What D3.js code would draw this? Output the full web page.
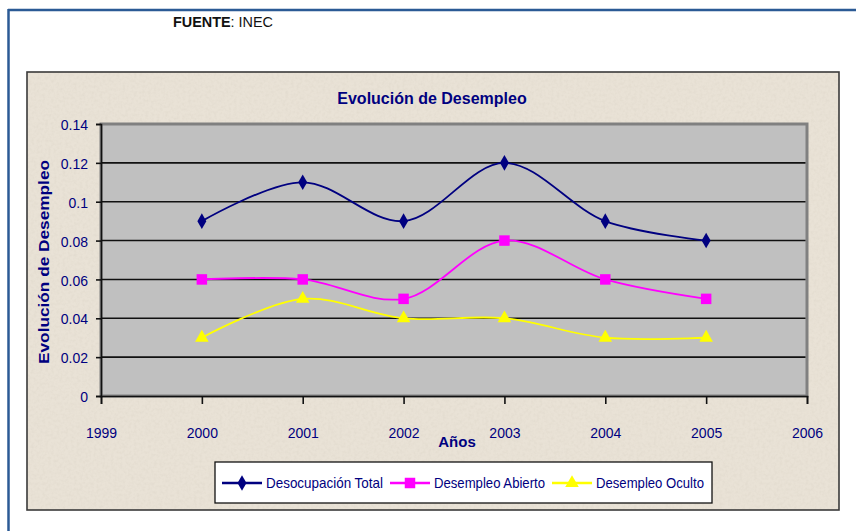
<!DOCTYPE html>
<html>
<head>
<meta charset="utf-8">
<script src="https://cdn.jsdelivr.net/npm/d3@7"></script>
<style>
  body { margin: 0; background: #fff; }
  svg text { font-family: "Liberation Sans Narrow", "Arial Narrow", "Liberation Sans", Arial, sans-serif; }
</style>
</head>
<body>
<svg id="svg-wrapper" width="856" height="531"></svg>
<script>
// data
const years = [2000, 2001, 2002, 2003, 2004, 2005];
const desocupacionTotal = [0.09, 0.11, 0.09, 0.12, 0.09, 0.08];
const desempleoAbierto = [0.06, 0.06, 0.05, 0.08, 0.06, 0.05];
const desempleoOculto = [0.03, 0.05, 0.04, 0.04, 0.03, 0.03];
const seriesNames = ["Desocupación Total", "Desempleo Abierto", "Desempleo Oculto"];
const xTicks = [1999, 2000, 2001, 2002, 2003, 2004, 2005, 2006];
const yTicks = [0, 0.02, 0.04, 0.06, 0.08, 0.1, 0.12, 0.14];

const NAVY = "#000080";
const series = [
    { name: seriesNames[0], values: desocupacionTotal, color: NAVY, symbol: d3.symbolDiamond, size: 70 },
    { name: seriesNames[1], values: desempleoAbierto, color: "#FF00FF", symbol: d3.symbolSquare, size: 110 },
    { name: seriesNames[2], values: desempleoOculto, color: "#FFFF00", symbol: d3.symbolTriangle, size: 80 }
];

const svg = d3.select('#svg-wrapper');

// texture for the beige chart background
const defs = svg.append('defs');
const filter = defs.append('filter').attr('id', 'grain')
    .attr('x', 0).attr('y', 0).attr('width', '100%').attr('height', '100%');
filter.append('feTurbulence')
    .attr('type', 'fractalNoise').attr('baseFrequency', 0.35).attr('numOctaves', 2).attr('seed', 4)
    .attr('result', 'noise');
filter.append('feColorMatrix').attr('in', 'noise').attr('type', 'matrix')
    .attr('values', '0 0 0 0 0.55  0 0 0 0 0.5  0 0 0 0 0.42  0 0 0 0.9 -0.35')
    .attr('result', 'spots');
filter.append('feComposite').attr('in', 'spots').attr('in2', 'SourceGraphic').attr('operator', 'in');

// outer page frame
svg.append('line').attr('x1', 8).attr('x2', 856).attr('y1', 10).attr('y2', 10)
    .attr('stroke', '#2B5A95').attr('stroke-width', 2.5);
svg.append('line').attr('x1', 8.5).attr('x2', 8.5).attr('y1', 9).attr('y2', 531)
    .attr('stroke', '#2B5A95').attr('stroke-width', 2.5);

const src = svg.append('text').attr('x', 173).attr('y', 27)
    .attr('font-size', 14).attr('fill', '#111')
    .attr('textLength', 100).attr('lengthAdjust', 'spacingAndGlyphs');
src.append('tspan').attr('font-weight', 'bold').text('FUENTE');
src.append('tspan').text(': INEC');

// chart area
svg.append('rect').attr('x', 27).attr('y', 72).attr('width', 812).attr('height', 438)
    .attr('fill', '#E9E2D6');
svg.append('rect').attr('x', 27).attr('y', 72).attr('width', 812).attr('height', 438)
    .attr('fill', '#E9E2D6').attr('filter', 'url(#grain)').attr('opacity', 0.35);
svg.append('rect').attr('x', 27).attr('y', 72).attr('width', 812).attr('height', 438)
    .attr('fill', 'none').attr('stroke', '#3a3a3a').attr('stroke-width', 1.6);

svg.append('text').attr('x', 432).attr('y', 104).attr('text-anchor', 'middle')
    .attr('font-size', 16).attr('font-weight', 'bold').attr('fill', NAVY)
    .text('Evolución de Desempleo');

const plot = { left: 101, right: 807, top: 124, bottom: 396 };

const x = d3.scaleLinear().domain([1999, 2006]).range([plot.left, plot.right]);
const y = d3.scaleLinear().domain([0, 0.14]).range([plot.bottom, plot.top]);

svg.append('rect').attr('x', plot.left).attr('y', plot.top)
    .attr('width', plot.right - plot.left).attr('height', plot.bottom - plot.top)
    .attr('fill', '#C0C0C0').attr('stroke', '#808080').attr('stroke-width', 3);

// gridlines
svg.append('g').selectAll('line')
    .data(yTicks.filter(d => d > 0 && d < 0.14))
    .enter().append('line')
    .attr('x1', plot.left).attr('x2', plot.right - 1.5)
    .attr('y1', d => y(d)).attr('y2', d => y(d))
    .attr('stroke', '#111').attr('stroke-width', 1.6);

// axes
const yAxis = svg.append('g').attr('transform', `translate(${plot.left},0)`)
    .call(d3.axisLeft(y).tickValues(yTicks).tickFormat(d => String(+d.toFixed(2))).tickSize(5).tickPadding(8));
const xAxis = svg.append('g').attr('transform', `translate(0,${plot.bottom})`)
    .call(d3.axisBottom(x).tickValues(xTicks).tickFormat(d3.format('d')).tickSize(8).tickPadding(24));
[yAxis, xAxis].forEach(ax => {
    ax.select('.domain').attr('stroke', '#111').attr('stroke-width', 1.6);
    ax.selectAll('.tick line').attr('stroke', '#111').attr('stroke-width', 1.6);
    ax.selectAll('text').attr('fill', NAVY).attr('font-size', 14)
        .attr('font-family', '"Liberation Sans Narrow", "Arial Narrow", Arial, sans-serif');
});
yAxis.selectAll('text').attr('dy', '0.4em');

svg.append('text').attr('x', 457).attr('y', 447).attr('text-anchor', 'middle')
    .attr('font-size', 15).attr('font-weight', 'bold').attr('fill', NAVY).text('Años');

svg.append('text').attr('transform', 'translate(49,262) rotate(-90)').attr('text-anchor', 'middle')
    .attr('font-size', 15).attr('font-weight', 'bold').attr('fill', NAVY)
    .attr('textLength', 204).attr('lengthAdjust', 'spacingAndGlyphs')
    .text('Evolución de Desempleo');

// lines and markers
const line = d3.line()
    .x((d, i) => x(years[i]))
    .y(d => y(d))
    .curve(d3.curveCatmullRom.alpha(0.5));

series.forEach(s => {
    svg.append('path').datum(s.values)
        .attr('d', line).attr('fill', 'none')
        .attr('stroke', s.color).attr('stroke-width', 1.8);
    svg.append('g').selectAll('path')
        .data(s.values).enter().append('path')
        .attr('d', d3.symbol().type(s.symbol).size(s.size))
        .attr('transform', (d, i) => `translate(${x(years[i])},${y(d)})`)
        .attr('fill', s.color);
});

// legend
const legend = svg.append('g');
legend.append('rect').attr('x', 215).attr('y', 462).attr('width', 497).attr('height', 41)
    .attr('fill', '#fff').attr('stroke', '#111').attr('stroke-width', 1.3);
const legendX = [222, 390, 552];
const legendTextW = [117, 111, 108];
series.forEach((s, i) => {
    const g = legend.append('g').attr('transform', `translate(${legendX[i]},483)`);
    g.append('line').attr('x1', 0).attr('x2', 40).attr('stroke', s.color).attr('stroke-width', 2.5);
    g.append('path').attr('d', d3.symbol().type(s.symbol).size(s.size))
        .attr('transform', 'translate(20,0)').attr('fill', s.color);
    g.append('text').attr('x', 44).attr('y', 5).attr('font-size', 15).attr('fill', NAVY)
        .attr('textLength', legendTextW[i]).attr('lengthAdjust', 'spacingAndGlyphs')
        .text(s.name);
});
</script>
</body>
</html>
